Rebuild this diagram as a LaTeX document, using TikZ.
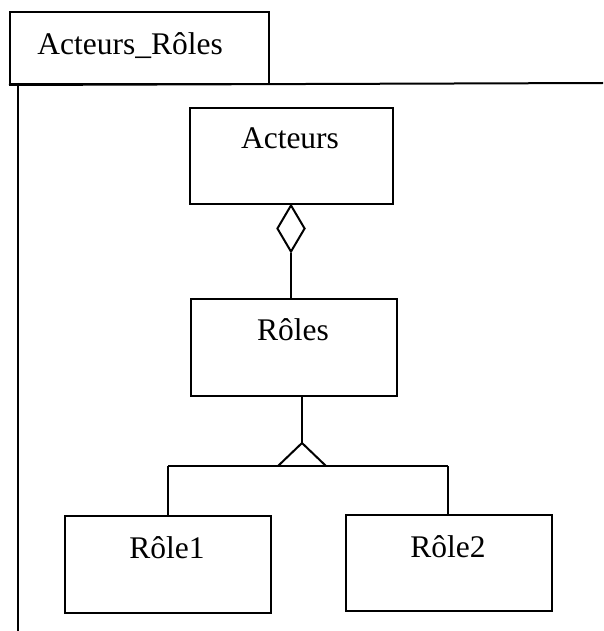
\documentclass[tikz,border=0pt]{standalone}
\usepackage{fontspec}
\setmainfont{Liberation Serif}
\usetikzlibrary{shapes.geometric}
\begin{document}
\begin{tikzpicture}[x=1pt,y=-1pt,line width=2pt,
  classbox/.style={draw, rectangle, inner sep=0pt, anchor=north west},
  classname/.style={font=\fontsize{31.5}{31.5}\selectfont},
  aggregate/.style={draw, diamond, fill=white, inner sep=0pt, minimum width=28pt, minimum height=47pt},
  link/.style={draw}]
  % page area
  \fill[white] (0,0) rectangle (603,631);
  \useasboundingbox (0,0) rectangle (603,631);

  % package tab and frame
  \node[classbox, minimum width=259pt, minimum height=72pt] (tab) at (9,11) {};
  \node[classname, anchor=west] (title) at (33,46) {Acteurs\_Rôles};
  \coordinate (frameR) at (603,83);
  \coordinate (frameL) at (18,83);
  \coordinate (frameB) at (18,631);
  \draw (tab.south west) -- (frameR);
  \draw (frameL) -- (frameB);

  % classes
  \node[classbox, minimum width=203pt, minimum height=96pt] (acteurs) at (189,107) {};
  \node[classname] (tacteurs) at (290,138) {Acteurs};
  \node[classbox, minimum width=206pt, minimum height=97pt] (roles) at (190,298) {};
  \node[classname] (troles) at (293,330) {Rôles};
  \node[classbox, minimum width=206pt, minimum height=97pt] (role1) at (64,515) {};
  \node[classname] (trole1) at (167,548) {Rôle1};
  \node[classbox, minimum width=206pt, minimum height=96pt] (role2) at (345,514) {};
  \node[classname] (trole2) at (448,547) {Rôle2};

  % aggregation Acteurs <>-- Rôles
  \node[aggregate, anchor=north] (agg) at (291,204) {};
  \draw (agg.south) -- (agg.south |- roles.north);

  % generalisation Rôle1, Rôle2 --|> Rôles
  \coordinate (apex) at (302,443);
  \coordinate (baseL) at (278,466);
  \coordinate (baseR) at (326,466);
  \coordinate (bus1) at (168,466);
  \coordinate (bus2) at (448,466);
  \draw (apex |- roles.south) -- (apex);
  \draw (baseL) -- (apex) -- (baseR);
  \draw (bus1) -- (bus2);
  \draw (bus1) -- (bus1 |- role1.north);
  \draw (bus2) -- (bus2 |- role2.north);
\end{tikzpicture}
\end{document}
